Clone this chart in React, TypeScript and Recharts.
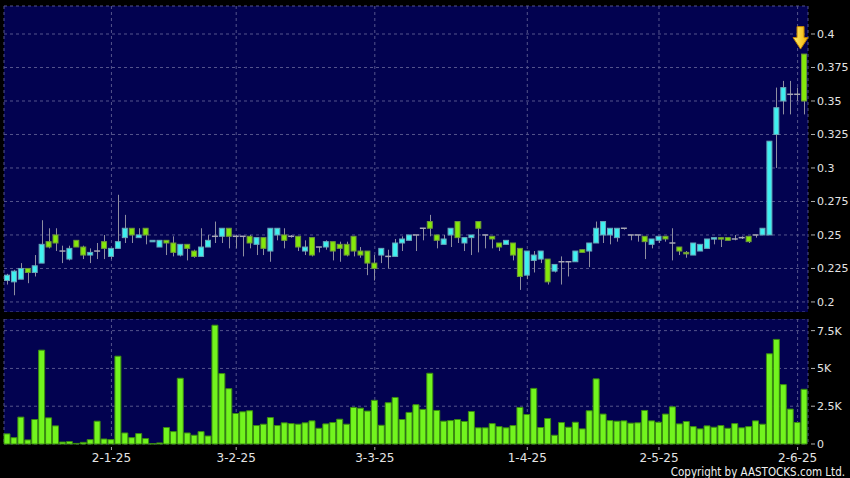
import {
  Bar,
  CartesianGrid,
  ComposedChart,
  ReferenceDot,
  XAxis,
  YAxis,
} from 'recharts';

// daily candles, oldest first
const opens = [
  0.216, 0.215, 0.217, 0.225, 0.222, 0.229, 0.245, 0.25, 0.238, 0.232,
  0.246, 0.241, 0.235, 0.238, 0.245, 0.234, 0.24, 0.248, 0.255, 0.248,
  0.255, 0.245, 0.241, 0.246, 0.244, 0.235, 0.243, 0.238, 0.234, 0.241,
  0.249, 0.249, 0.255, 0.249, 0.249, 0.249, 0.243, 0.248, 0.238, 0.25,
  0.25, 0.249, 0.249, 0.238, 0.248, 0.241, 0.241, 0.245, 0.243, 0.243,
  0.249, 0.238, 0.238, 0.229, 0.235, 0.234, 0.234, 0.244, 0.246, 0.25,
  0.255, 0.26, 0.25, 0.243, 0.25, 0.26, 0.244, 0.248, 0.26, 0.25,
  0.249, 0.244, 0.243, 0.244, 0.24, 0.22, 0.231, 0.232, 0.232, 0.223,
  0.23, 0.23, 0.23, 0.239, 0.238, 0.244, 0.25, 0.25, 0.248, 0.255,
  0.25, 0.25, 0.249, 0.243, 0.246, 0.249, 0.244, 0.241, 0.237, 0.235,
  0.238, 0.24, 0.247, 0.248, 0.248, 0.247, 0.248, 0.249, 0.25, 0.25,
  0.25, 0.325, 0.35, 0.355, 0.355, 0.385,
];
const highs = [
  0.221, 0.224, 0.229, 0.225, 0.235, 0.261, 0.255, 0.255, 0.242, 0.242,
  0.246, 0.242, 0.24, 0.244, 0.25, 0.24, 0.28, 0.265, 0.255, 0.255,
  0.255, 0.246, 0.246, 0.246, 0.249, 0.243, 0.243, 0.239, 0.255, 0.25,
  0.26, 0.255, 0.255, 0.25, 0.249, 0.25, 0.248, 0.248, 0.255, 0.255,
  0.255, 0.25, 0.249, 0.246, 0.248, 0.241, 0.246, 0.245, 0.245, 0.245,
  0.249, 0.241, 0.238, 0.235, 0.24, 0.239, 0.247, 0.249, 0.25, 0.25,
  0.255, 0.265, 0.25, 0.25, 0.255, 0.26, 0.248, 0.25, 0.26, 0.25,
  0.249, 0.244, 0.246, 0.244, 0.24, 0.238, 0.238, 0.238, 0.232, 0.228,
  0.234, 0.23, 0.238, 0.239, 0.244, 0.26, 0.26, 0.255, 0.255, 0.255,
  0.25, 0.25, 0.249, 0.247, 0.249, 0.249, 0.255, 0.241, 0.238, 0.244,
  0.243, 0.247, 0.248, 0.248, 0.248, 0.25, 0.249, 0.249, 0.25, 0.255,
  0.32, 0.36, 0.365, 0.365, 0.36, 0.385,
];
const lows = [
  0.213, 0.205, 0.217, 0.214, 0.219, 0.229, 0.24, 0.238, 0.229, 0.231,
  0.241, 0.232, 0.229, 0.232, 0.232, 0.232, 0.24, 0.244, 0.244, 0.248,
  0.243, 0.245, 0.241, 0.235, 0.234, 0.234, 0.231, 0.233, 0.234, 0.241,
  0.244, 0.244, 0.24, 0.24, 0.234, 0.24, 0.235, 0.235, 0.23, 0.246,
  0.24, 0.248, 0.238, 0.235, 0.234, 0.237, 0.239, 0.231, 0.23, 0.234,
  0.234, 0.233, 0.22, 0.216, 0.229, 0.225, 0.234, 0.238, 0.246, 0.238,
  0.246, 0.249, 0.24, 0.243, 0.241, 0.244, 0.238, 0.235, 0.237, 0.24,
  0.24, 0.238, 0.243, 0.231, 0.209, 0.217, 0.222, 0.229, 0.213, 0.222,
  0.213, 0.219, 0.23, 0.237, 0.226, 0.244, 0.244, 0.243, 0.245, 0.254,
  0.246, 0.245, 0.232, 0.24, 0.244, 0.245, 0.231, 0.235, 0.233, 0.235,
  0.238, 0.24, 0.243, 0.241, 0.246, 0.246, 0.247, 0.244, 0.248, 0.25,
  0.25, 0.3, 0.34, 0.34, 0.35, 0.34,
];
const closes = [
  0.22, 0.223, 0.225, 0.222, 0.227, 0.243, 0.241, 0.244, 0.238, 0.24,
  0.241, 0.235, 0.237, 0.238, 0.24, 0.24, 0.245, 0.255, 0.25, 0.25,
  0.25, 0.246, 0.246, 0.244, 0.237, 0.243, 0.24, 0.234, 0.241, 0.246,
  0.249, 0.255, 0.249, 0.249, 0.249, 0.244, 0.248, 0.24, 0.255, 0.255,
  0.246, 0.249, 0.241, 0.241, 0.235, 0.241, 0.245, 0.238, 0.24, 0.235,
  0.238, 0.235, 0.229, 0.225, 0.24, 0.234, 0.244, 0.247, 0.25, 0.25,
  0.255, 0.255, 0.246, 0.247, 0.255, 0.248, 0.248, 0.25, 0.255, 0.25,
  0.247, 0.241, 0.246, 0.235, 0.219, 0.238, 0.235, 0.238, 0.215, 0.228,
  0.23, 0.23, 0.238, 0.237, 0.244, 0.255, 0.26, 0.255, 0.255, 0.255,
  0.25, 0.25, 0.245, 0.247, 0.249, 0.247, 0.244, 0.238, 0.236, 0.244,
  0.243, 0.247, 0.248, 0.247, 0.246, 0.247, 0.248, 0.245, 0.25, 0.255,
  0.32, 0.345, 0.36, 0.355, 0.355, 0.35,
];
const volumes = [
  670, 420, 1780, 270, 1620, 6210, 1730, 1200, 130, 160,
  40, 110, 290, 1510, 330, 290, 5810, 730, 420, 690,
  360, 20, 70, 1090, 820, 4350, 730, 580, 820, 530,
  7860, 4660, 3660, 2020, 2130, 2200, 1220, 1310, 1750, 1220,
  1400, 1350, 1310, 1400, 1530, 1040, 1330, 1420, 1640, 1310,
  2420, 2370, 2180, 2890, 1240, 2730, 3080, 1620, 2090, 2600,
  2290, 4680, 2220, 1510, 1550, 1620, 1490, 2150, 1070, 1070,
  1350, 1150, 1070, 1220, 2420, 1950, 3680, 1090, 1690, 580,
  1420, 1110, 1440, 1000, 2200, 4310, 1980, 1550, 1510, 1530,
  1380, 1400, 2220, 1530, 1440, 1980, 2460, 1330, 1490, 1150,
  1000, 1200, 1110, 1220, 1040, 1350, 1070, 1150, 1530, 1310,
  5970, 6920, 3930, 2310, 1420, 3620,
];

const dateTickIndex = [15, 33, 53, 75, 94, 114];
const dateTickLabels = ['2-1-25', '3-2-25', '3-3-25', '1-4-25', '2-5-25', '2-6-25'];
const priceTicks = [0.2, 0.225, 0.25, 0.275, 0.3, 0.325, 0.35, 0.375, 0.4];
const volumeTicks = [0, 2500, 5000, 7500];
const volumeTickLabels = ['0', '2.5K', '5K', '7.5K'];

const candles = opens.map((open, i) => ({
  i,
  open,
  high: highs[i],
  low: lows[i],
  close: closes[i],
  range: [lows[i], highs[i]],
  volume: volumes[i],
}));
const lastIndex = candles.length - 1;

const PLOT_BG = '#020250';
const GRID = '#55558c';
const UP = '#3ff0f0';
const DOWN = '#84e80a';
const LABEL = '#e4e4e4';
const FONT = '"DejaVu Sans", sans-serif';

function Candle(props: any) {
  const { x, y, width, height, payload } = props;
  const { open, close, high, low } = payload;
  const top = Math.min(y, y + height);
  const bottom = Math.max(y, y + height);
  const span = high - low;
  const toY = (p: number) => (span > 0 ? top + ((high - p) / span) * (bottom - top) : top);
  const cx = Math.round(x + width / 2) + 0.5;
  const yOpen = toY(open);
  const yClose = toY(close);

  return (
    <g>
      <line x1={cx} x2={cx} y1={toY(high)} y2={toY(low)} stroke="#8e8ea0" strokeWidth={1} />
      {open === close ? (
        <line x1={x} x2={x + width} y1={yOpen} y2={yOpen} stroke="#a8a8b4" strokeWidth={1.5} />
      ) : (
        <rect
          x={x + 0.5}
          y={Math.min(yOpen, yClose)}
          width={width - 1}
          height={Math.max(1.5, Math.abs(yOpen - yClose))}
          fill={close > open ? UP : DOWN}
          stroke={close > open ? '#6aa6b8' : '#6f9a38'}
          strokeWidth={1}
        />
      )}
    </g>
  );
}

function Arrow({ cx, cy }: any) {
  const tx = cx - 4;
  const ty = cy - 5;
  const d = `M${tx},${ty} L${tx - 7.5},${ty - 11.5} L${tx - 3.5},${ty - 11.5} L${tx - 3.5},${ty - 22.5} L${tx + 3.5},${ty - 22.5} L${tx + 3.5},${ty - 11.5} L${tx + 7.5},${ty - 11.5} Z`;
  return (
    <g>
      <defs>
        <linearGradient id="arrowFill" x1="0" x2="1" y1="0" y2="0">
          <stop offset="0%" stopColor="#fff070" />
          <stop offset="100%" stopColor="#f2b000" />
        </linearGradient>
      </defs>
      <path d={d} fill="url(#arrowFill)" stroke="#c08000" strokeWidth={1} />
    </g>
  );
}

function RightTick({ x, y, label }: any) {
  return (
    <g>
      <line x1={x + 3} x2={x + 7} y1={y} y2={y} stroke="#b0b0b0" />
      <text x={x + 9} y={y} dy="0.36em" fill={LABEL} fontSize={11} fontFamily={FONT} textAnchor="start">
        {label}
      </text>
    </g>
  );
}

function DateTick({ x, y, payload }: any) {
  const label = dateTickLabels[dateTickIndex.indexOf(payload.value)];
  return (
    <g>
      <line x1={x} x2={x} y1={y + 3} y2={y + 6} stroke="#b0b0b0" />
      <text x={x} y={y + 18} fill={LABEL} fontSize={12} fontFamily={FONT} textAnchor="middle">
        {label}
      </text>
    </g>
  );
}

export default function App() {
  return (
    <div
      style={{
        position: 'fixed',
        left: 0,
        top: 0,
        width: 850,
        height: 478,
        background: '#000',
        overflow: 'hidden',
      }}
    >
      <div style={{ position: 'absolute', left: 0, top: 0 }}>
        <ComposedChart
          data={candles}
          height={312}
          margin={{ top: 6, right: 0, bottom: 0, left: 4 }}
          width={850}
        >
          <CartesianGrid fill={PLOT_BG} stroke={GRID} strokeDasharray="3 3" />
          <XAxis dataKey="i" hide interval={0} ticks={dateTickIndex} type="category" />
          <YAxis
            allowDataOverflow
            axisLine={false}
            domain={[0.1925, 0.4209]}
            orientation="right"
            tick={(p: any) => <RightTick {...p} label={String(p.payload.value)} />}
            tickLine={false}
            tickMargin={0}
            tickSize={0}
            ticks={priceTicks}
            type="number"
            width={42}
          />
          <Bar
            barSize={6}
            dataKey="range"
            isAnimationActive={false}
            shape={(p: any) => <Candle {...p} />}
          />
          <ReferenceDot
            shape={(p: any) => <Arrow {...p} />}
            x={lastIndex}
            y={highs[lastIndex]}
          />
        </ComposedChart>
      </div>

      <div style={{ position: 'absolute', left: 0, top: 319 }}>
        <ComposedChart
          data={candles}
          height={159}
          margin={{ top: 0, right: 0, bottom: 0, left: 4 }}
          width={850}
        >
          <CartesianGrid fill={PLOT_BG} stroke={GRID} strokeDasharray="3 3" />
          <XAxis
            axisLine={false}
            dataKey="i"
            height={34}
            interval={0}
            tick={(p: any) => <DateTick {...p} />}
            tickLine={false}
            tickMargin={0}
            tickSize={0}
            ticks={dateTickIndex}
            type="category"
          />
          <YAxis
            axisLine={false}
            domain={[0, 8270]}
            orientation="right"
            tick={(p: any) => (
              <RightTick {...p} label={volumeTickLabels[volumeTicks.indexOf(p.payload.value)]} />
            )}
            tickLine={false}
            tickMargin={0}
            tickSize={0}
            ticks={volumeTicks}
            type="number"
            width={42}
          />
          <Bar
            barSize={6}
            dataKey="volume"
            fill="#72f41e"
            isAnimationActive={false}
            stroke="#3b8c10"
            strokeWidth={1}
          />
        </ComposedChart>
      </div>

      <svg
        height={478}
        style={{ position: 'absolute', left: 0, top: 0, pointerEvents: 'none' }}
        width={850}
      >
        <text
          fill="#f0f0f0"
          fontFamily='"DejaVu Sans Condensed", "DejaVu Sans", sans-serif'
          fontSize={11.5}
          textAnchor="end"
          x={845}
          y={476}
        >
          Copyright by AASTOCKS.com Ltd.
        </text>
      </svg>
    </div>
  );
}
